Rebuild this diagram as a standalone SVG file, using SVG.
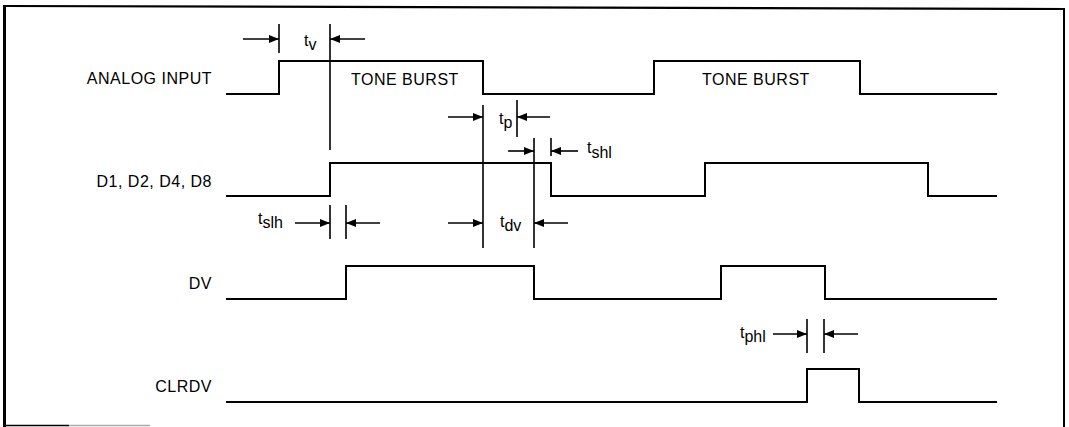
<svg xmlns="http://www.w3.org/2000/svg" width="1069" height="427" viewBox="0 0 1069 427">
<defs>
<style>
.lbl{font-family:"Liberation Sans",Arial,sans-serif;font-size:16px;letter-spacing:0.5px;fill:#000}
.tl{font-family:"Liberation Sans",Arial,sans-serif;font-size:16px;fill:#000}
.sig{fill:none;stroke:#000;stroke-width:2;stroke-linejoin:miter}
.tick{stroke:#000;stroke-width:1.6}
.arr{stroke:#000;stroke-width:1.6;marker-end:url(#ah)}
.brd{stroke:#000;fill:none}
</style>
<marker id="ah" markerUnits="userSpaceOnUse" markerWidth="11" markerHeight="9" refX="10" refY="4" orient="auto">
<path d="M0,0 L10,4 L0,8 z" fill="#000"/>
</marker>
</defs>
<rect x="0" y="0" width="1069" height="427" fill="#fff"/>
<g id="border">
<line class="brd" x1="4" y1="6" x2="1065" y2="9" stroke-width="2.2"/>
<line class="brd" x1="4.5" y1="5" x2="4.5" y2="427" stroke-width="3"/>
<line class="brd" x1="1064" y1="9" x2="1064" y2="427" stroke-width="2"/>
<line class="brd" x1="3" y1="425.5" x2="69" y2="425.5" stroke-width="1.6"/>
<line x1="69" y1="425.5" x2="150" y2="425.5" stroke="#aaa" stroke-width="1.6"/>
</g>
<g id="analog-input">
<text class="lbl" x="212" y="84" text-anchor="end">ANALOG INPUT</text>
<polyline class="sig" points="226,94 279,94 279,61 483,61 483,94 654,94 654,61 860,61 860,94 997,94"/>
<text class="lbl" x="351" y="85">TONE BURST</text>
<text class="lbl" x="702" y="85">TONE BURST</text>
</g>
<g id="d-outputs">
<text class="lbl" x="212" y="187" text-anchor="end">D1, D2, D4, D8</text>
<polyline class="sig" points="226,196 330,196 330,163 551,163 551,196 705,196 705,163 928,163 928,196 997,196"/>
</g>
<g id="dv">
<text class="lbl" x="212" y="289" text-anchor="end">DV</text>
<polyline class="sig" points="226,299 346,299 346,266 534,266 534,299 721,299 721,266 825,266 825,299 997,299"/>
</g>
<g id="clrdv">
<text class="lbl" x="212" y="392" text-anchor="end">CLRDV</text>
<polyline class="sig" points="226,402 807,402 807,369 859,369 859,402 997,402"/>
</g>
<g id="connectors">
<line class="tick" x1="279" y1="24" x2="279" y2="53"/>
<line class="tick" x1="330" y1="24" x2="330" y2="150"/>
<line class="tick" x1="483" y1="105" x2="483" y2="248"/>
<line class="tick" x1="517" y1="100" x2="517" y2="137"/>
<line class="tick" x1="534" y1="138" x2="534" y2="248"/>
<line class="tick" x1="551" y1="138" x2="551" y2="156"/>
<line class="tick" x1="330" y1="205" x2="330" y2="239"/>
<line class="tick" x1="346" y1="205" x2="346" y2="239"/>
<line class="tick" x1="807" y1="319" x2="807" y2="353"/>
<line class="tick" x1="824" y1="319" x2="824" y2="353"/>
<line class="arr" x1="243" y1="39" x2="279" y2="39"/>
<line class="arr" x1="365" y1="39" x2="330" y2="39"/>
<line class="arr" x1="448" y1="117" x2="483" y2="117"/>
<line class="arr" x1="550" y1="117" x2="517" y2="117"/>
<line class="arr" x1="508" y1="151" x2="534" y2="151"/>
<line class="arr" x1="578" y1="151" x2="551" y2="151"/>
<line class="arr" x1="448" y1="223" x2="483" y2="223"/>
<line class="arr" x1="568" y1="223" x2="534" y2="223"/>
<line class="arr" x1="295" y1="223" x2="330" y2="223"/>
<line class="arr" x1="380" y1="223" x2="346" y2="223"/>
<line class="arr" x1="773" y1="334" x2="807" y2="334"/>
<line class="arr" x1="858" y1="334" x2="824" y2="334"/>
</g>
<g id="timing-labels">
<text class="tl" x="304" y="46">t<tspan dy="4">v</tspan></text>
<text class="tl" x="499" y="124">t<tspan dy="4">p</tspan></text>
<text class="tl" x="587" y="153">t<tspan dy="4.5">shl</tspan></text>
<text class="tl" x="500" y="227">t<tspan dy="4">dv</tspan></text>
<text class="tl" x="258" y="224">t<tspan dy="4">slh</tspan></text>
<text class="tl" x="740" y="338">t<tspan dy="4">phl</tspan></text>
</g>
</svg>
